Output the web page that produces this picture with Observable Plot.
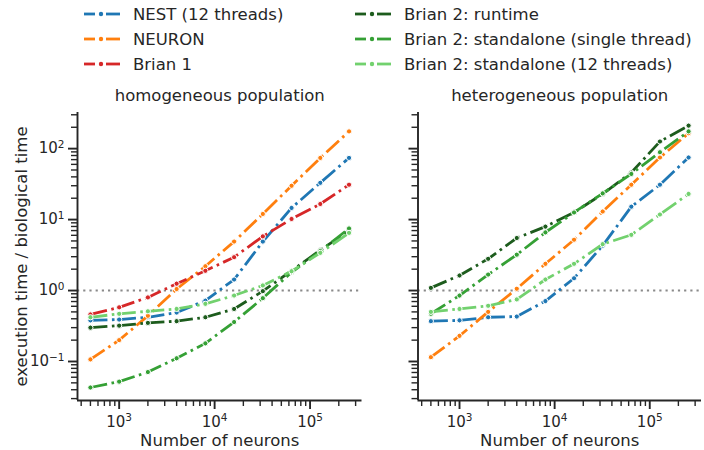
<!DOCTYPE html>
<html>
<head>
<meta charset="utf-8">
<script src="https://cdn.jsdelivr.net/npm/d3@7"></script>
<script src="https://cdn.jsdelivr.net/npm/@observablehq/plot@0.6"></script>
<style>
  html, body { margin: 0; padding: 0; background: #fff; }
  #fig { position: relative; width: 704px; height: 450px; font-family: "DejaVu Sans", sans-serif; color: #262626; overflow: hidden; }
  .leg { position: absolute; height: 20px; display: flex; align-items: center; font-size: 16.5px; white-space: nowrap; }
  .leg svg { margin-right: 13px; }
  .panel { position: absolute; top: 80px; }
</style>
</head>
<body>
<div id="fig"></div>
<script>
// ---- data ----
const neurons = [500, 1000, 2000, 4000, 8000, 16000, 32000, 64000, 128000, 256000];

const seriesNames = [
  "NEST (12 threads)",
  "NEURON",
  "Brian 1",
  "Brian 2: runtime",
  "Brian 2: standalone (single thread)",
  "Brian 2: standalone (12 threads)"
];
const seriesColors = ["#1f77b4", "#ff7f0e", "#d62728", "#1d5c1d", "#35a035", "#72d16e"];

const panelTitles = ["homogeneous population", "heterogeneous population"];

// homogeneous population
const nestHomog        = [0.38, 0.39, 0.42, 0.49, 0.72, 1.43, 4.9, 14.6, 33, 74];
const neuronHomog      = [0.107, 0.2, 0.44, 1.05, 2.2, 4.9, 12, 30, 74, 175];
const brian1Homog      = [0.46, 0.58, 0.8, 1.25, 1.9, 2.95, 5.8, 10.2, 16.6, 31];
const runtimeHomog     = [0.30, 0.32, 0.35, 0.37, 0.42, 0.55, 0.98, 1.9, 3.7, 7.0];
const standaloneHomog  = [0.043, 0.052, 0.071, 0.111, 0.18, 0.36, 0.78, 1.81, 3.6, 7.5];
const standalone12Homog= [0.42, 0.47, 0.51, 0.55, 0.65, 0.85, 1.18, 1.87, 3.4, 6.5];

// heterogeneous population (no Brian 1)
const nestHet          = [0.37, 0.38, 0.42, 0.43, 0.71, 1.49, 4.3, 15.2, 31, 75];
const neuronHet        = [0.115, 0.23, 0.50, 1.06, 2.38, 5.2, 13, 31, 75, 165];
const runtimeHet       = [1.09, 1.63, 2.8, 5.5, 7.96, 12.6, 23, 46, 126, 211];
const standaloneHet    = [0.47, 0.85, 1.68, 3.2, 6.6, 12.6, 23.4, 44, 89, 175];
const standalone12Het  = [0.50, 0.55, 0.61, 0.75, 1.43, 2.38, 4.5, 6.1, 11.8, 23];

const xMajor = [1e3, 1e4, 1e5];
const xMinor = [400,500,600,700,800,900,2000,3000,4000,5000,6000,7000,8000,9000,
                20000,30000,40000,50000,60000,70000,80000,90000,200000,300000];
const yMajor = [0.1, 1, 10, 100];
const yMinor = [0.03,0.04,0.05,0.06,0.07,0.08,0.09,0.2,0.3,0.4,0.5,0.6,0.7,0.8,0.9,
                2,3,4,5,6,7,8,9,20,30,40,50,60,70,80,90,200,300];

const yLabel = "execution time / biological time";
const xLabel = "Number of neurons";

// ---- build tables ----
function table(arrays) {
  const rows = [];
  arrays.forEach((vals, si) => {
    if (!vals) return;
    vals.forEach((v, i) => rows.push({series: seriesNames[si], n: neurons[i], t: v, idx: si}));
  });
  return rows;
}
const homogRows = table([nestHomog, neuronHomog, brian1Homog, runtimeHomog, standaloneHomog, standalone12Homog]);
const hetRows = table([nestHet, neuronHet, null, runtimeHet, standaloneHet, standalone12Het]);

const ink = "#262626";
const fmt = d => "10^" + Math.round(Math.log10(d));

function panel(rows, title, opts) {
  const marks = [
    Plot.ruleY([1], {stroke: "#8a8a8a", strokeWidth: 2, strokeDasharray: "2.2,4"})
  ];
  seriesNames.forEach((name, si) => {
    const d = rows.filter(r => r.idx === si);
    if (!d.length) return;
    marks.push(Plot.line(d, {x: "n", y: "t", stroke: seriesColors[si], strokeWidth: 2.8,
      strokeDasharray: "17,4.5,2.6,4.5", strokeLinecap: "butt"}));
    marks.push(Plot.dot(d, {x: "n", y: "t", r: 2.6, fill: seriesColors[si], stroke: "white", strokeWidth: 1}));
  });
  marks.push(
    Plot.ruleX([366], {stroke: ink, strokeWidth: 1.9}),
    Plot.ruleY([0.0282], {stroke: ink, strokeWidth: 1.9}),
    Plot.axisX({ticks: xMajor, tickFormat: fmt, tickSize: 9, tickPadding: 7, fontSize: 15, color: ink, strokeWidth: 1.9, label: null}),
    Plot.axisX({ticks: xMinor, tickFormat: () => "", tickSize: 6, color: ink, strokeWidth: 1.4, label: null}),
    Plot.axisY({ticks: yMajor, tickFormat: opts.yLabels ? fmt : () => "", tickSize: 9, tickPadding: 4, fontSize: 15, color: ink, strokeWidth: 1.9, label: null}),
    Plot.axisY({ticks: yMinor, tickFormat: () => "", tickSize: 6, color: ink, strokeWidth: 1.4, label: null}),
    Plot.text([title], {frameAnchor: "top", dy: -17, lineAnchor: "middle", fontSize: 16.5, fill: ink}),
    Plot.text([xLabel], {frameAnchor: "bottom", dy: 40, lineAnchor: "middle", fontSize: 16.5, fill: ink})
  );
  if (opts.yLabels) {
    marks.push(Plot.text([yLabel], {frameAnchor: "left", rotate: -90, dx: -56, textAnchor: "middle", lineAnchor: "middle", fontSize: 16.5, fill: ink}));
  }
  const svg = Plot.plot({
    width: opts.width,
    height: 370,
    marginLeft: opts.marginLeft,
    marginRight: opts.marginRight,
    marginTop: 32,
    marginBottom: 50,
    x: {type: "log", domain: [366, 350000], label: null},
    y: {type: "log", domain: [0.0282, 323], label: null},
    style: {fontFamily: "DejaVu Sans", fontSize: "15px", color: ink, background: "transparent", overflow: "visible"},
    marks
  });
  // superscript exponents in tick labels
  d3.select(svg).selectAll("text").each(function() {
    const t = this.textContent;
    const m = /^10\^(-?\d+)$/.exec(t);
    if (m) {
      const exp = m[1].replace("-", "\u2212");
      this.textContent = "";
      const ns = "http://www.w3.org/2000/svg";
      const base = document.createElementNS(ns, "tspan");
      base.textContent = "10";
      const sup = document.createElementNS(ns, "tspan");
      sup.textContent = exp;
      sup.setAttribute("font-size", "0.7em");
      sup.setAttribute("dy", "-0.55em");
      this.appendChild(base);
      this.appendChild(sup);
    }
  });
  return svg;
}

const fig = document.getElementById("fig");

const left = panel(homogRows, panelTitles[0], {width: 370, marginLeft: 77, marginRight: 8.5, yLabels: true});
left.classList.add("panel");
left.style.left = "0px";
fig.appendChild(left);

const right = panel(hetRows, panelTitles[1], {width: 334, marginLeft: 47.5, marginRight: 3, yLabels: false});
right.classList.add("panel");
right.style.left = "370px";
fig.appendChild(right);

// ---- legend ----
const legendPos = [
  {x: 84, y: 14}, {x: 84, y: 39}, {x: 84, y: 64},
  {x: 355, y: 14}, {x: 355, y: 39}, {x: 355, y: 64}
];
seriesNames.forEach((name, i) => {
  const item = document.createElement("div");
  item.className = "leg";
  item.style.left = legendPos[i].x + "px";
  item.style.top = (legendPos[i].y - 10) + "px";
  const c = seriesColors[i];
  item.innerHTML =
    `<svg width="36" height="10" viewBox="0 0 36 10">` +
    `<line x1="0" x2="11" y1="5" y2="5" stroke="${c}" stroke-width="2.8"/>` +
    `<line x1="22" x2="36" y1="5" y2="5" stroke="${c}" stroke-width="2.8"/>` +
    `<circle cx="17" cy="5" r="2.2" fill="${c}"/></svg>` +
    `<span>${name}</span>`;
  fig.appendChild(item);
});
</script>
</body>
</html>
